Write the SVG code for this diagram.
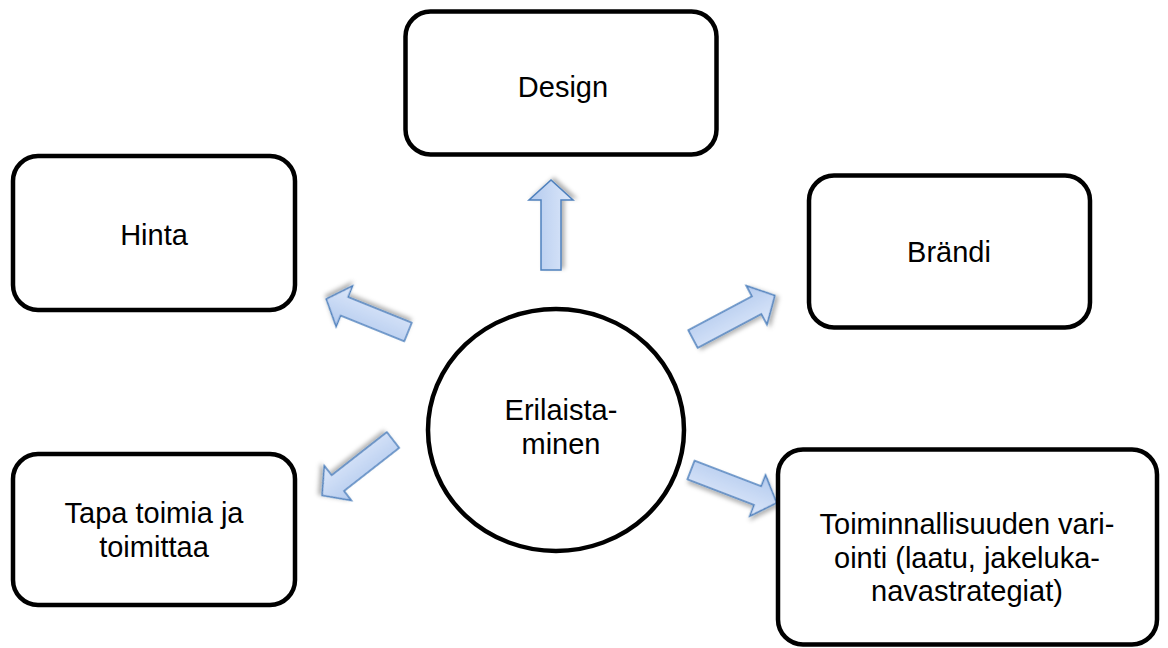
<svg xmlns="http://www.w3.org/2000/svg" width="1168" height="648" viewBox="0 0 1168 648">
  <defs>
    <linearGradient id="arrowFill" x1="0" y1="0" x2="0" y2="1">
      <stop offset="0" stop-color="#b3caee"/>
      <stop offset="1" stop-color="#dde8fa"/>
    </linearGradient>
    <filter id="softShadow" x="-30%" y="-30%" width="160%" height="160%">
      <feDropShadow dx="2" dy="3" stdDeviation="2" flood-color="#000" flood-opacity="0.3"/>
    </filter>
    <!-- block arrow pointing along +x, tail at origin -->
    <path id="blockArrow" d="M0,-10 L70,-10 L70,-22 L90,0 L70,22 L70,10 L0,10 Z"/>
  </defs>
  <style>
    .box { fill: #fff; stroke: #000; stroke-width: 4.5; }
    .label { font-family: "Liberation Sans", Arial, sans-serif; font-size: 29px; fill: #000; text-anchor: middle; }
    .arrow { fill: url(#arrowFill); stroke: #4f81bd; stroke-width: 1.5; stroke-linejoin: miter; filter: url(#softShadow); }
  </style>

  <rect width="1168" height="648" fill="#fff"/>

  <g id="connectors">
    <use href="#blockArrow" class="arrow" transform="translate(551,270) rotate(-90)"/>
    <use href="#blockArrow" class="arrow" transform="translate(408,332) rotate(-158) scale(0.98,1)"/>
    <use href="#blockArrow" class="arrow" transform="translate(693,339) rotate(-28) scale(1.03,1)"/>
    <use href="#blockArrow" class="arrow" transform="translate(393,440) rotate(142)"/>
    <use href="#blockArrow" class="arrow" transform="translate(691,470) rotate(21) scale(1.02,1)"/>
  </g>

  <g id="node-design">
    <rect class="box" x="405.5" y="11.5" width="311" height="143" rx="25"/>
    <text class="label" x="563" y="97">Design</text>
  </g>

  <g id="node-hinta">
    <rect class="box" x="13" y="156" width="282" height="154" rx="25"/>
    <text class="label" x="154" y="245">Hinta</text>
  </g>

  <g id="node-brandi">
    <rect class="box" x="809" y="175.5" width="281" height="152" rx="25"/>
    <text class="label" x="949" y="262">Brändi</text>
  </g>

  <g id="node-tapa">
    <rect class="box" x="13" y="454" width="282" height="151" rx="25"/>
    <text class="label" x="154" y="523">Tapa toimia ja</text>
    <text class="label" x="154" y="557">toimittaa</text>
  </g>

  <g id="node-toiminnallisuus">
    <rect class="box" x="778" y="449.5" width="379" height="195" rx="25"/>
    <text class="label" x="967" y="534">Toiminnallisuuden vari-</text>
    <text class="label" x="967" y="568">ointi (laatu, jakeluka-</text>
    <text class="label" x="967" y="601">navastrategiat)</text>
  </g>

  <g id="node-erilaistaminen">
    <ellipse class="box" cx="556" cy="430" rx="128" ry="121"/>
    <text class="label" x="561" y="420">Erilaista-</text>
    <text class="label" x="561" y="454">minen</text>
  </g>
</svg>
